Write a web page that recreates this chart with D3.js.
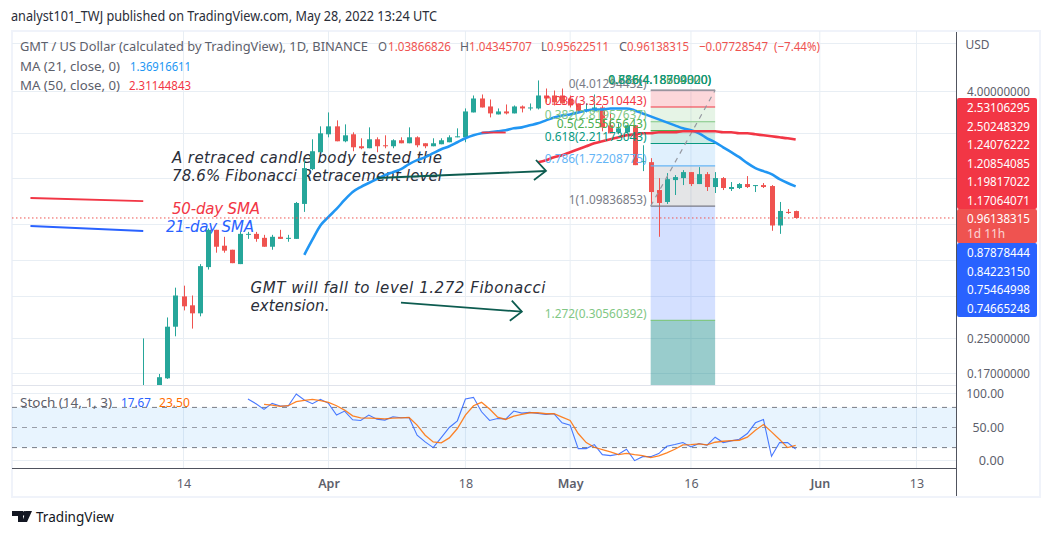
<!DOCTYPE html>
<html>
<head>
<meta charset="utf-8">
<style>
  html, body { margin: 0; padding: 0; background: #fff; }
  svg { display: block; }
  text { font-family: "Noto Sans", sans-serif; }
</style>
<script src="https://cdn.jsdelivr.net/npm/d3@7"></script>
</head>
<body>
<div id="chart"></div>
<script>
// Candles, one per day from this date on
var firstDay = new Date(Date.UTC(2022, 2, 9));
var candleOpen = [0.12,0.13,0.145,0.160,0.285,0.400,0.362,0.331,0.555,0.842,0.705,0.674,0.574,0.796,0.805,0.770,0.697,0.779,0.761,0.761,1.125,1.660,2.006,2.451,2.679,2.267,2.451,2.144,2.097,2.318,2.168,2.144,2.293,2.217,2.370,2.217,2.144,2.193,2.242,2.370,2.370,3.130,3.658,3.346,3.061,3.165,3.096,3.346,3.273,3.273,3.783,3.783,3.783,3.658,3.460,3.165,3.165,3.309,2.709,2.506,2.506,2.709,1.795,1.795,1.314,1.150,1.469,1.502,1.606,1.405,1.570,1.359,1.502,1.329,1.344,1.405,1.374,1.389,1.374,0.884,1.029,1.03866826];
var candleHigh = [0.25,0.145,0.168,0.316,0.441,0.451,0.404,0.574,0.855,0.842,0.779,0.674,0.823,0.823,0.823,0.796,0.796,0.842,0.796,1.150,1.835,2.318,2.679,3.130,2.864,2.739,2.506,2.344,2.649,2.370,2.423,2.318,2.370,2.649,2.396,2.217,2.344,2.344,2.423,2.620,3.273,3.783,3.826,3.618,3.273,3.422,3.384,3.384,3.460,4.476,4.09,4.0,4.09,3.783,3.460,3.460,3.826,3.384,3.096,2.770,2.709,2.709,2.168,1.877,1.502,1.588,1.553,1.642,1.606,1.698,1.606,1.606,1.519,1.437,1.421,1.536,1.389,1.421,1.389,1.150,1.063,1.04345707];
var candleLow = [0.115,0.12,0.145,0.159,0.256,0.342,0.279,0.320,0.540,0.652,0.652,0.580,0.574,0.761,0.737,0.697,0.674,0.761,0.737,0.761,1.029,1.642,2.006,2.370,2.267,2.242,2.028,2.074,2.097,2.006,2.097,2.097,2.217,2.217,2.120,2.097,2.144,2.193,2.242,2.370,2.242,3.130,3.309,2.961,3.061,3.061,3.096,3.130,3.201,3.237,3.499,3.384,3.460,3.309,3.130,3.130,3.130,2.534,2.478,2.451,2.478,1.736,1.624,1.112,0.779,1.125,1.243,1.389,1.374,1.405,1.300,1.271,1.314,1.300,1.329,1.344,1.285,1.344,0.833,0.805,1.006,0.95622511];
var candleClose = [0.13,0.14,0.162,0.285,0.404,0.358,0.331,0.561,0.842,0.697,0.667,0.580,0.805,0.805,0.761,0.697,0.779,0.761,0.770,1.137,1.679,2.028,2.478,2.679,2.267,2.423,2.120,2.097,2.318,2.144,2.144,2.293,2.217,2.370,2.168,2.144,2.217,2.293,2.370,2.396,3.165,3.658,3.309,3.096,3.165,3.096,3.346,3.273,3.309,3.783,3.658,3.499,3.460,3.384,3.165,3.237,3.309,2.649,2.478,2.620,2.709,1.736,1.815,1.285,1.137,1.485,1.519,1.606,1.405,1.570,1.359,1.502,1.344,1.359,1.405,1.359,1.389,1.359,0.884,1.040,1.017,0.96138315];

// Moving averages
var ma21Start = new Date(Date.UTC(2022, 2, 29));
var ma21 = [0.637,0.754,0.884,0.973,1.064,1.176,1.285,1.359,1.421,1.485,1.553,1.606,1.660,1.755,1.835,1.898,1.984,2.074,2.144,2.242,2.344,2.423,2.478,2.506,2.534,2.562,2.620,2.649,2.709,2.770,2.864,2.961,3.027,3.061,3.130,3.201,3.237,3.237,3.273,3.273,3.273,3.201,3.096,2.994,2.896,2.801,2.709,2.620,2.562,2.478,2.344,2.242,2.120,2.006,1.898,1.775,1.679,1.624,1.570,1.485,1.421,1.36916611];
var ma50Start = new Date(Date.UTC(2022, 3, 27));
var ma50 = [1.795,1.835,1.898,1.939,2.006,2.074,2.144,2.217,2.267,2.318,2.370,2.423,2.451,2.478,2.478,2.506,2.506,2.506,2.534,2.534,2.534,2.534,2.534,2.506,2.506,2.478,2.478,2.451,2.423,2.396,2.370,2.344,2.31144843];

// Stochastic
var stochKStart = new Date(Date.UTC(2022, 2, 22));
var stochK = [92.5,85.5,77,86,82,82,100,91,85.5,92,86,68.5,74.5,61.5,60.5,68.5,62.5,61,66,64.5,65,38.5,28.5,20,35,50,60,92.5,95,73.5,60.5,63.5,62.5,74.5,71.5,72.5,71,69.5,70.5,57,53.5,18.5,18.5,24.5,9.5,8,10,17.5,0.5,6.5,6.5,11,22,24.5,27.5,21,26,23.5,35.5,27.5,30,32.5,41,57,62,7,27.5,27.5,17.67];
var stochDStart = new Date(Date.UTC(2022, 2, 24));
var stochD = [84.5,83.5,81.5,82.5,88.5,90.5,92,90,87.5,82.5,76,67.5,64.5,64,63.5,63,64,64.5,65,53.5,38.5,28.5,27,34.5,48.5,68.5,82.5,87.5,77.5,65.5,62,67,69.5,72,72,70.5,70.5,65.5,60.5,41,27.5,20.5,17,13.5,9.5,11.5,9.5,8,5,7.5,12,17.5,24,24.5,25.5,24,28,29.5,30.5,31,35.5,46,54.5,43.5,32,20,23.5];

// Fibonacci levels
var fibStart = new Date(Date.UTC(2022, 4, 11));
var fibEnd = new Date(Date.UTC(2022, 4, 19));
var fibRatios = ["0","0.236","0.382","0.5","0.618","0.786","1","1.272"];
var fibPrices = [4.01294432,3.32510443,2.81957637,2.55565643,2.21173043,1.72208775,1.09836853,0.30560392];
var fibColors = ["#787b86","#f23645","#81c784","#4caf50","#089981","#64b5f6","#787b86","#81c784"];
var fibFills = ["#f23645","#81c784","#4caf50","#089981","#64b5f6","#787b86","#2962ff"];
var fibOverlap = ["0.786(4.18300000)","1.618(4.18654300)","0.886(4.18709020)"];
var fibOverlapColors = ["#787b86","#4caf50","#089981"];

// Axes
var tickDates = [Date.UTC(2022,2,14),Date.UTC(2022,3,1),Date.UTC(2022,3,18),Date.UTC(2022,4,1),Date.UTC(2022,4,16),Date.UTC(2022,5,1),Date.UTC(2022,5,13)].map(function(d) { return new Date(d); });
var tickLabels = ["14","Apr","18","May","16","Jun","13"];
var gridPrices = [6.8,4,2.5,1.5,0.9,0.6,0.4,0.25,0.17];
var axisPrices = [4,0.25,0.17];
var stochTicks = [100,50,0];
var stochLevels = [80,50,20];

// Price tags on the right
var redTags = ["2.53106295","2.50248329","1.24076222","1.20854085","1.19817022","1.17064071"];
var blueTags = ["0.87878444","0.84223150","0.75464998","0.74665248"];

// Define SVG area
var svgWidth = 1052;
var svgHeight = 536;
var pane = { left: 12, right: 957, top: 31, bottom: 385 };
var stochPane = { top: 386, bottom: 468 };

var svg = d3.select("#chart").append("svg")
    .attr("width", svgWidth)
    .attr("height", svgHeight);

// Scales
var x = d3.scaleUtc()
    .domain([new Date(Date.UTC(2022,2,14)), new Date(Date.UTC(2022,5,13))])
    .range([183.5, 916.5]);
var y = d3.scaleLog()
    .domain([0.17, 4])
    .range([372.9, 90.5]);
var yStoch = d3.scaleLinear()
    .domain([0, 100])
    .range([461, 394]);

function dayAfter(start, i) { return d3.utcDay.offset(start, i); }

var labelColor = "#5d606b";
var red = "#ef5350";

// Text squeezed to the width it has in the picture
function label(str, left, base, width, color, size) {
  return svg.append("text")
      .attr("x", left).attr("y", base)
      .attr("textLength", width).attr("lengthAdjust", "spacingAndGlyphs")
      .attr("fill", color)
      .style("font-size", (size || 13) + "px")
      .text(str);
}

svg.append("defs").append("clipPath").attr("id", "priceClip")
  .append("rect")
    .attr("x", pane.left).attr("y", pane.top)
    .attr("width", pane.right - pane.left).attr("height", pane.bottom - pane.top);

// Frame
svg.append("rect")
    .attr("x", 12).attr("y", 31).attr("width", 1028).attr("height", 466)
    .attr("fill", "none").attr("stroke", "#f0f3fa").attr("stroke-width", 2);

// Grid
var grid = svg.append("g").attr("stroke", "#e8eef4");
grid.selectAll(".v").data(tickDates).enter().append("line")
    .attr("x1", function(d) { return x(d); }).attr("x2", function(d) { return x(d); })
    .attr("y1", pane.top).attr("y2", stochPane.bottom);
grid.selectAll(".h").data(gridPrices).enter().append("line")
    .attr("x1", pane.left).attr("x2", pane.right)
    .attr("y1", function(d) { return Math.round(y(d)) + 0.5; })
    .attr("y2", function(d) { return Math.round(y(d)) + 0.5; });
grid.selectAll(".s").data([100, 0]).enter().append("line")
    .attr("x1", pane.left).attr("x2", pane.right)
    .attr("y1", function(d) { return Math.round(yStoch(d)) - 0.5; })
    .attr("y2", function(d) { return Math.round(yStoch(d)) - 0.5; });

// Pane divider
svg.append("line")
    .attr("x1", pane.left).attr("x2", pane.right).attr("y1", 385.5).attr("y2", 385.5)
    .attr("stroke", "#e0e3eb");

// Stochastic band
svg.append("rect")
    .attr("x", pane.left).attr("width", pane.right - pane.left)
    .attr("y", yStoch(80)).attr("height", yStoch(20) - yStoch(80))
    .attr("fill", "#2196f3").attr("opacity", 0.1);
svg.selectAll(".stochLevel").data(stochLevels).enter().append("line")
    .attr("x1", pane.left).attr("x2", pane.right)
    .attr("y1", function(d) { return yStoch(d); }).attr("y2", function(d) { return yStoch(d); })
    .attr("stroke", "#787b86").attr("stroke-dasharray", "5,5")
    .attr("opacity", function(d) { return d == 50 ? 0.7 : 1; });

// Annotation text sits under the candles
var notes = [
  ["A retraced candle body tested the", 172, 163, 270, "#2a2e39"],
  ["78.6% Fibonacci Retracement level", 172, 181, 270, "#2a2e39"],
  ["50-day SMA", 172, 214, 88, "#f23645"],
  ["21-day SMA", 166, 232, 88, "#2962ff"],
  ["GMT will fall to level 1.272 Fibonacci", 250.5, 293, 295, "#2a2e39"],
  ["extension.", 250.5, 311, 79, "#2a2e39"]
];
svg.selectAll(".note").data(notes).enter().append("text")
    .attr("x", function(d) { return d[1]; })
    .attr("y", function(d) { return d[2]; })
    .attr("textLength", function(d) { return d[3]; })
    .attr("fill", function(d) { return d[4]; })
    .style("font-family", "'DejaVu Sans', sans-serif")
    .style("font-size", "15px").style("font-style", "italic")
    .text(function(d) { return d[0]; });

var plot = svg.append("g").attr("clip-path", "url(#priceClip)");

// Fibonacci fills
plot.selectAll(".fibFill").data(fibFills).enter().append("rect")
    .attr("x", x(fibStart)).attr("width", x(fibEnd) - x(fibStart))
    .attr("y", function(d, i) { return y(fibPrices[i]); })
    .attr("height", function(d, i) { return y(fibPrices[i + 1]) - y(fibPrices[i]); })
    .attr("fill", function(d) { return d; })
    .attr("opacity", 0.2);
plot.append("rect")
    .attr("x", x(fibStart)).attr("width", x(fibEnd) - x(fibStart))
    .attr("y", y(fibPrices[7])).attr("height", pane.bottom - y(fibPrices[7]))
    .attr("fill", "#008080").attr("opacity", 0.4);

// Candles
var candles = plot.selectAll(".candle").data(candleOpen).enter().append("g");
function candleColor(i) { return candleClose[i] >= candleOpen[i] ? "#26a69a" : "#ef5350"; }
candles.append("line")
    .attr("x1", function(d, i) { return Math.round(x(dayAfter(firstDay, i))) + 0.5; })
    .attr("x2", function(d, i) { return Math.round(x(dayAfter(firstDay, i))) + 0.5; })
    .attr("y1", function(d, i) { return y(candleHigh[i]); })
    .attr("y2", function(d, i) { return y(candleLow[i]); })
    .attr("stroke", function(d, i) { return candleColor(i); });
candles.append("rect")
    .attr("x", function(d, i) { return Math.round(x(dayAfter(firstDay, i))) - 2; })
    .attr("width", 5)
    .attr("y", function(d, i) { return y(Math.max(candleOpen[i], candleClose[i])); })
    .attr("height", function(d, i) { return Math.max(1, Math.abs(y(candleOpen[i]) - y(candleClose[i]))); })
    .attr("fill", function(d, i) { return candleColor(i); });

// Fibonacci level lines
plot.selectAll(".fibLine").data(fibPrices).enter().append("line")
    .attr("x1", x(fibStart)).attr("x2", x(fibEnd))
    .attr("y1", function(d) { return y(d); }).attr("y2", function(d) { return y(d); })
    .attr("stroke", function(d, i) { return fibColors[i]; })
    .attr("stroke-width", 1.2);

// Trend line through the fib range
plot.append("line")
    .attr("x1", x(fibStart)).attr("y1", y(fibPrices[6]))
    .attr("x2", x(fibEnd)).attr("y2", y(fibPrices[0]))
    .attr("stroke", "#9598a1").attr("stroke-dasharray", "5,5").attr("stroke-width", 1.2);

// Moving averages
var maLine = function(start) {
  return d3.line()
    .x(function(d, i) { return x(dayAfter(start, i)); })
    .y(function(d) { return y(d); })
    .curve(d3.curveMonotoneX);
};
plot.append("path").attr("d", maLine(ma21Start)(ma21))
    .attr("fill", "none").attr("stroke", "#2196f3").attr("stroke-width", 2.6);
plot.append("path").attr("d", maLine(ma50Start)(ma50))
    .attr("fill", "none").attr("stroke", "#f23645").attr("stroke-width", 2.6);

// Dotted last price line
svg.append("line")
    .attr("x1", pane.left).attr("x2", pane.right)
    .attr("y1", y(0.96138315)).attr("y2", y(0.96138315))
    .attr("stroke", "#ef5350").attr("stroke-dasharray", "1.5,2.5");

// Hand drawn legend lines and arrows, in chart coordinates
var pt = d3.line()
    .x(function(d) { return x(dayAfter(firstDay, d[0] + 5)); })
    .y(function(d) { return y(d[1]); });
plot.append("path").attr("d", pt([[-19, 1.202], [-5, 1.162]]))
    .attr("fill", "none").attr("stroke", "#f23645").attr("stroke-width", 1.8);
plot.append("path").attr("d", pt([[-19, 0.879], [-5, 0.831]]))
    .attr("fill", "none").attr("stroke", "#2962ff").attr("stroke-width", 1.8);
plot.append("path").attr("d", pt([[37, 2.5], [40, 2.5]]))
    .attr("fill", "none").attr("stroke", "#f23645").attr("stroke-width", 1.8);

function arrow(fromDay, fromPrice, toDay, toPrice) {
  var x2 = x(dayAfter(firstDay, toDay + 5)), y2 = y(toPrice);
  plot.append("path").attr("d", pt([[fromDay, fromPrice], [toDay, toPrice]]))
      .attr("fill", "none").attr("stroke", "#0d5c50").attr("stroke-width", 1.8);
  plot.append("path")
      .attr("d", d3.line()([[x2 - 10, y2 - 11], [x2, y2], [x2 - 12, y2 + 9]]))
      .attr("fill", "none").attr("stroke", "#0d5c50").attr("stroke-width", 1.8);
}
arrow(24, 1.503, 45, 1.626);
arrow(27, 0.3729, 42, 0.337);

// Stochastic lines
var stochLine = function(start) {
  return d3.line()
    .x(function(d, i) { return x(dayAfter(start, i)); })
    .y(function(d) { return yStoch(d); });
};
svg.append("path").attr("d", stochLine(stochKStart)(stochK))
    .attr("fill", "none").attr("stroke", "#2962ff").attr("opacity", 0.85).attr("stroke-width", 1.1);
svg.append("path").attr("d", stochLine(stochDStart)(stochD))
    .attr("fill", "none").attr("stroke", "#ff6d00").attr("opacity", 0.85).attr("stroke-width", 1.3);

// Axis lines
svg.append("line").attr("x1", 956.5).attr("x2", 956.5).attr("y1", 32).attr("y2", 496).attr("stroke", "#50535e");
var xAxis = d3.axisBottom(x).tickValues(tickDates).tickSize(0).tickPadding(0)
    .tickFormat(function(d, i) { return tickLabels[i]; });
var xAxisGroup = svg.append("g").attr("transform", "translate(0,468)").call(xAxis);
xAxisGroup.select(".domain").remove();
xAxisGroup.selectAll("text")
    .attr("y", 20).attr("dy", 0)
    .attr("fill", labelColor)
    .style("font-family", "'Noto Sans', sans-serif")
    .style("font-size", "12.5px")
    .style("font-weight", function(d, i) { return tickLabels[i].length == 3 ? "600" : "normal"; });
svg.append("line").attr("x1", pane.left).attr("x2", 957).attr("y1", 468.5).attr("y2", 468.5).attr("stroke", "#50535e");

// Fibonacci labels, each character takes about 6px
var fibRight = x(fibStart) - 4;
svg.selectAll(".fibLabel").data(fibPrices).enter().append("text")
    .attr("x", function(d, i) { return fibRight - (fibRatios[i].length + 12) * 6; })
    .attr("y", function(d) { return y(d) - 2.5; })
    .attr("textLength", function(d, i) { return (fibRatios[i].length + 12) * 6; })
    .attr("lengthAdjust", "spacingAndGlyphs")
    .attr("fill", function(d, i) { return fibColors[i]; })
    .style("font-size", "13px")
    .text(function(d, i) { return fibRatios[i] + "(" + d.toFixed(8) + ")"; });
svg.selectAll(".fibOverlap").data(fibOverlap).enter().append("text")
    .attr("x", x(fibEnd) - 4 - 103)
    .attr("y", 84)
    .attr("textLength", 103)
    .attr("lengthAdjust", "spacingAndGlyphs")
    .attr("fill", function(d, i) { return fibOverlapColors[i]; })
    .style("font-size", "13px")
    .text(function(d) { return d; });

// Header and legends
label("analyst101_TWJ published on TradingView.com, May 28, 2022 13:24 UTC", 11, 21, 426, "#2a2e39", 13.5);
label("GMT / US Dollar (calculated by TradingView), 1D, BINANCE", 20, 51, 348, labelColor);
label("O", 378, 51, 9, labelColor);
label("1.03866826", 388, 51, 63, red);
label("H", 460, 51, 9, labelColor);
label("1.04345707", 469, 51, 63, red);
label("L", 541, 51, 6, labelColor);
label("0.95622511", 547, 51, 62, red);
label("C", 619, 51, 8, labelColor);
label("0.96138315", 627, 51, 62, red);
label("\u22120.07728547", 699, 51, 69, red);
label("(\u22127.44%)", 774, 51, 46, red);
label("MA (21, close, 0)", 20, 71, 100, labelColor);
label("1.36916611", 130, 71, 61, "#2196f3");
label("MA (50, close, 0)", 20, 90, 100, labelColor);
label("2.31144843", 129, 90, 62, "#f23645");
label("Stoch (14, 1, 3)", 20, 407, 92, labelColor);
label("17.67", 121, 407, 30, "#2962ff");
label("23.50", 159, 407, 31, "#ff6d00");

// Right axis
label("USD", 965.5, 49, 24, labelColor, 12.5);
axisPrices.forEach(function(d) {
  label(d.toFixed(8), 967, y(d) + 5, 63, labelColor, 13);
});
stochTicks.forEach(function(d) {
  var s = d.toFixed(2);
  label(s, 1004 - s.length * 6.3, yStoch(d) + 4, s.length * 6.3, labelColor, 13);
});

function tagBlock(top, height, color) {
  svg.append("rect").attr("x", 957).attr("y", top).attr("width", 80).attr("height", height)
      .attr("rx", 2).attr("fill", color);
}
tagBlock(98, 111, "#f23645");
tagBlock(209, 34, "#ef5350");
tagBlock(243, 74, "#2962ff");
var tagY = d3.scaleLinear().domain([0, 1]).range([0, 18.6]);
redTags.forEach(function(d, i) { label(d, 967, 112 + tagY(i), 63, "#fff", 13); });
label("0.96138315", 967, 223, 63, "#fff", 13);
label("1d 11h", 967, 238, 38, "#fff", 13).attr("opacity", 0.75);
blueTags.forEach(function(d, i) { label(d, 967, 257 + tagY(i), 63, "#fff", 13); });

// TradingView mark
svg.append("path")
    .attr("d", "M12 511h11v11h-5v-6h-6zM32 511l-5 11h-5l4-11zM25 511a2.5 2.5 0 1 1-.1 0z")
    .attr("fill", "#131722");
label("TradingView", 36, 522, 78, "#131722", 14.5);
</script>
</body>
</html>
